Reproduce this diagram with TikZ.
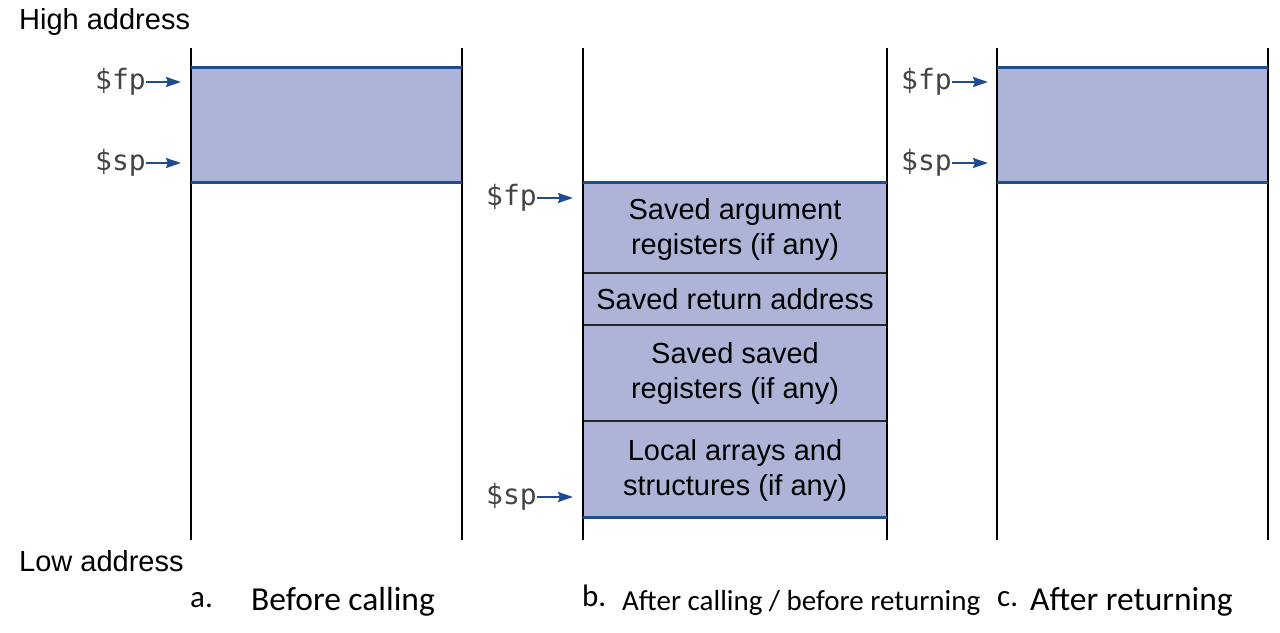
\documentclass[tikz,border=0pt]{standalone}
\usepackage{fontspec}
\setmainfont{Liberation Sans}
\newfontfamily\calfont{Carlito}
\newfontfamily\monofont{DejaVu Sans Mono}
\usetikzlibrary{arrows.meta}
\definecolor{stackfill}{HTML}{ADB4D7}
\definecolor{stackblue}{HTML}{1F4C8F}
\definecolor{labgray}{HTML}{444444}
\tikzset{
  wall/.style={draw=black, line width=1.4pt},
  frame/.style={fill=stackfill, draw=none},
  edge/.style={draw=stackblue, line width=3pt},
  divider/.style={draw=black!85, line width=1.4pt},
  reg/.style={font=\monofont\fontsize{28}{28}\selectfont, text=labgray, inner sep=0pt, anchor=east},
  ptr/.style={draw=stackblue, line width=2pt, -{Stealth[length=15pt,width=10pt,inset=2pt]}},
  boxtext/.style={font=\fontsize{29}{35}\selectfont, align=center, inner sep=0pt},
  side/.style={font=\fontsize{29}{29}\selectfont, anchor=west, inner sep=0pt},
  captext/.style={font=\calfont\fontsize{33.5}{33.5}\selectfont, anchor=base west, inner sep=0pt},
  capmid/.style={font=\calfont\fontsize{29}{29}\selectfont, anchor=base west, inner sep=0pt},
  capletter/.style={font=\calfont\fontsize{31}{31}\selectfont, anchor=base west, inner sep=0pt}
}
\begin{document}
\begin{tikzpicture}[x=1pt,y=-1pt]
\useasboundingbox (0,0) rectangle (1280,632);
% column a
\fill[frame] (191,67) rectangle (462,182);
\draw[wall] (191,48) -- (191,540);
\draw[wall] (462,48) -- (462,540);
\draw[edge] (191,67) -- (462,67);
\draw[edge] (191,182) -- (462,182);
% column b
\fill[frame] (583,182) rectangle (887,517);
\draw[divider] (583,273) -- (887,273);
\draw[divider] (583,325) -- (887,325);
\draw[divider] (583,421) -- (887,421);
\draw[wall] (583,48) -- (583,540);
\draw[wall] (887,48) -- (887,540);
\draw[edge] (583,182) -- (887,182);
\draw[edge] (583,517) -- (887,517);
% column c
\fill[frame] (997,67) rectangle (1268,182);
\draw[wall] (997,48) -- (997,540);
\draw[wall] (1268,48) -- (1268,540);
\draw[edge] (997,67) -- (1268,67);
\draw[edge] (997,182) -- (1268,182);
% box texts
\node[boxtext] (t1) at (735,229) {Saved argument\\registers (if any)};
\node[boxtext] (t2) at (735,299) {Saved return address};
\node[boxtext] (t3) at (735,373) {Saved saved\\registers (if any)};
\node[boxtext] (t4) at (735,470) {Local arrays and\\structures (if any)};
% pointer labels
\node[reg] (afp) at (146,82) {\$fp};
\node[reg] (asp) at (146,163) {\$sp};
\node[reg] (bfp) at (537,198) {\$fp};
\node[reg] (bsp) at (537,497) {\$sp};
\node[reg] (cfp) at (952,82) {\$fp};
\node[reg] (csp) at (952,163) {\$sp};
\coordinate (afpT) at (181,82);
\coordinate (aspT) at (181,163);
\coordinate (bfpT) at (573,198);
\coordinate (bspT) at (573,497);
\coordinate (cfpT) at (988,82);
\coordinate (cspT) at (988,163);
\draw[ptr] (afp.east) -- (afpT);
\draw[ptr] (asp.east) -- (aspT);
\draw[ptr] (bfp.east) -- (bfpT);
\draw[ptr] (bsp.east) -- (bspT);
\draw[ptr] (cfp.east) -- (cfpT);
\draw[ptr] (csp.east) -- (cspT);
% side labels
\node[side] (high) at (19,22) {High address};
\node[side] (low) at (19,561) {Low address};
% captions
\node[capletter] (ca) at (190,607) {a.};
\node[captext] (cat) at (251,610) {Before calling};
\node[capletter] (cb) at (582,606) {b.};
\node[capmid] (cbt) at (622,610) {After calling / before returning};
\node[capletter] (cc) at (997,606) {c.};
\node[captext] (cct) at (1030,610) {After returning};
\end{tikzpicture}
\end{document}
